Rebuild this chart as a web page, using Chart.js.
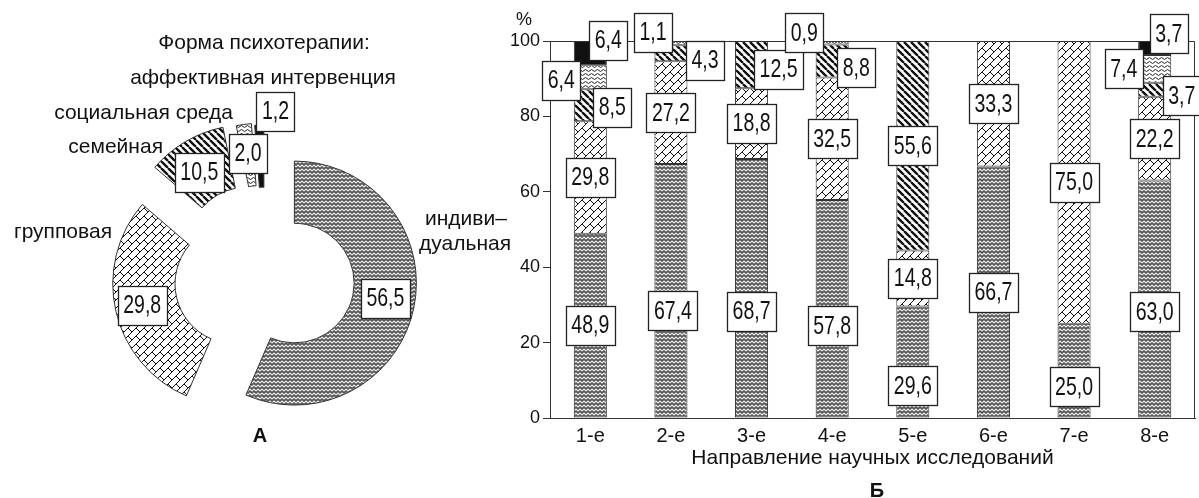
<!DOCTYPE html>
<html>
<head>
<meta charset="utf-8">
<script src="https://cdn.jsdelivr.net/npm/chart.js@4"></script>
<style>
    html, body { margin: 0; padding: 0; background: #fff; }
    body { width: 1199px; height: 498px; position: relative; overflow: hidden; }
    #formChart { position: absolute; left: 0; top: 0; }
    #directionChart { position: absolute; left: 470px; top: 0; }
</style>
</head>
<body>
<canvas id="formChart" width="530" height="498"></canvas>
<canvas id="directionChart" width="729" height="498"></canvas>
<script>
// Panel A: forms of psychotherapy, %
const formLabels = [['индиви–', 'дуальная'], 'групповая', 'семейная', 'социальная среда', 'аффективная интервенция'];
const formShares = [56.5, 29.8, 10.5, 2.0, 1.2];

// Panel Б: research directions, stacked %
const directions = ['1-е', '2-е', '3-е', '4-е', '5-е', '6-е', '7-е', '8-е'];
const individual = [48.9, 67.4, 68.7, 57.8, 29.6, 66.7, 25.0, 63.0];
const group      = [29.8, 27.2, 18.8, 32.5, 14.8, 33.3, 75.0, 22.2];
const family     = [8.5, 4.3, 12.5, 8.8, 55.6, 0, 0, 3.7];
const social     = [6.4, 1.1, 0, 0.9, 0, 0, 0, 7.4];
const affective  = [6.4, 0, 0, 0, 0, 0, 0, 3.7];
const yTicks = [0, 20, 40, 60, 80, 100];

const FONT = 'Arial, "Liberation Sans", sans-serif';
Chart.defaults.font.family = FONT;
Chart.defaults.color = '#111';

// ---- fill textures ----
function makePattern(w, h, draw) {
    const c = document.createElement('canvas');
    c.width = w;
    c.height = h;
    const g = c.getContext('2d');
    draw(g, w, h);
    return g.createPattern(c, 'repeat');
}

const herringbone = makePattern(8, 4, (g) => {
    g.fillStyle = '#555';
    g.fillRect(0, 0, 8, 4);
    g.strokeStyle = '#eee';
    g.lineWidth = 1.1;
    g.beginPath();
    g.moveTo(0, 3); g.lineTo(2, 1); g.lineTo(4, 3); g.lineTo(6, 1); g.lineTo(8, 3);
    g.stroke();
});

// diagonal brick: "/" courses with staggered "\" joints
const brick = makePattern(16, 16, (g) => {
    g.fillStyle = '#fff';
    g.fillRect(0, 0, 16, 16);
    g.strokeStyle = '#111';
    g.lineWidth = 1;
    const xy = (u, v) => [(u + v) / 2, (u - v) / 2];
    g.beginPath();
    for (let k = -2; k <= 6; k++) {
        const u = 8 * k;
        let [x1, y1] = xy(u, -64);
        let [x2, y2] = xy(u, 64);
        g.moveTo(x1, y1); g.lineTo(x2, y2);
        const start = ((8 * k) % 16 + 16) % 16;
        for (let v = start - 64; v <= 64; v += 16) {
            [x1, y1] = xy(u, v);
            [x2, y2] = xy(u + 8, v);
            g.moveTo(x1, y1); g.lineTo(x2, y2);
        }
    }
    g.stroke();
});

const stripes = makePattern(7, 7, (g) => {
    g.fillStyle = '#fff';
    g.fillRect(0, 0, 7, 7);
    g.strokeStyle = '#111';
    g.lineWidth = 2.4;
    g.beginPath();
    for (const k of [-7, 0, 7]) {
        g.moveTo(k, 0);
        g.lineTo(k + 7, 7);
    }
    g.stroke();
});

const wavy = makePattern(6, 4, (g) => {
    g.fillStyle = '#fff';
    g.fillRect(0, 0, 6, 4);
    g.strokeStyle = '#222';
    g.lineWidth = 1;
    g.beginPath();
    g.moveTo(0, 2.5);
    g.quadraticCurveTo(1.5, 0.5, 3, 2.5);
    g.quadraticCurveTo(4.5, 4.5, 6, 2.5);
    g.stroke();
});

const seriesFill = [herringbone, brick, stripes, wavy, '#111'];

// ---- value boxes ----
function fmt(v) {
    return v.toFixed(1).replace('.', ',');
}

function drawValueBox(ctx, text, cx, cy) {
    ctx.save();
    ctx.font = '25px ' + FONT;
    const squeeze = 0.78;
    const tw = ctx.measureText(text).width * squeeze;
    const w = Math.round(tw + 11);
    const h = 39;
    const x = Math.round(cx - w / 2) + 0.5;
    const y = Math.round(cy - h / 2) + 0.5;
    ctx.fillStyle = '#fff';
    ctx.fillRect(x, y, w, h);
    ctx.strokeStyle = '#222';
    ctx.lineWidth = 1.3;
    ctx.strokeRect(x, y, w, h);
    ctx.translate(cx, cy + 1);
    ctx.scale(squeeze, 1);
    ctx.fillStyle = '#111';
    ctx.textAlign = 'center';
    ctx.textBaseline = 'middle';
    ctx.fillText(text, 0, 0);
    ctx.restore();
}

// ---- panel A ----
// how far each slice is pulled out of the ring, px
const sliceExplode = [30, 31, 35, 32, 30];
const formBoxShift = [[2, -3], [-4, 1], [-2, 4], [0, -2], [15, -45]];
const formNamePos = [
    { x: 425, y: 225, align: 'left', second: { x: 419, y: 250 } },
    { x: 112, y: 238, align: 'right' },
    { x: 163, y: 153, align: 'right' },
    { x: 233, y: 119, align: 'right' },
    { x: 263, y: 84, align: 'center' }
];

const formLabelPlugin = {
    id: 'formLabels',
    beforeDatasetsDraw(chart) {
        // explode the slices: move every arc's centre out along its middle angle
        const a = chart.chartArea;
        const cx = (a.left + a.right) / 2;
        const cy = (a.top + a.bottom) / 2;
        chart.getDatasetMeta(0).data.forEach((arc, i) => {
            const mid = (arc.startAngle + arc.endAngle) / 2;
            arc.x = cx + Math.cos(mid) * sliceExplode[i];
            arc.y = cy + Math.sin(mid) * sliceExplode[i];
        });
    },
    afterDatasetsDraw(chart) {
        const ctx = chart.ctx;
        chart.getDatasetMeta(0).data.forEach((arc, i) => {
            const mid = (arc.startAngle + arc.endAngle) / 2;
            const r = (arc.innerRadius + arc.outerRadius) / 2;
            const d = formBoxShift[i];
            drawValueBox(ctx, fmt(formShares[i]), arc.x + Math.cos(mid) * r + d[0], arc.y + Math.sin(mid) * r + d[1]);
        });
    },
    afterDraw(chart) {
        const ctx = chart.ctx;
        ctx.save();
        ctx.fillStyle = '#111';
        ctx.font = '21px ' + FONT;
        ctx.textBaseline = 'alphabetic';
        ctx.textAlign = 'center';
        ctx.fillText('Форма психотерапии:', 264, 49);
        formLabels.forEach((name, i) => {
            const pos = formNamePos[i];
            ctx.textAlign = pos.align;
            if (Array.isArray(name)) {
                ctx.fillText(name[0], pos.x, pos.y);
                ctx.fillText(name[1], pos.second.x, pos.second.y);
            } else {
                ctx.fillText(name, pos.x, pos.y);
            }
        });
        ctx.font = 'bold 20px ' + FONT;
        ctx.textAlign = 'center';
        ctx.fillText('А', 260, 442);
        ctx.restore();
    }
};

new Chart(document.getElementById('formChart'), {
    type: 'doughnut',
    data: {
        labels: formLabels.map(l => Array.isArray(l) ? l.join('') : l),
        datasets: [{
            data: formShares,
            backgroundColor: [herringbone, brick, stripes, wavy, '#111'],
            borderColor: '#333',
            borderWidth: 1,
            hoverOffset: 0
        }]
    },
    options: {
        responsive: false,
        animation: false,
        events: [],
        radius: 122,
        cutout: '49%',
        layout: { padding: { top: 56 } },
        plugins: {
            legend: { display: false },
            tooltip: { enabled: false }
        }
    },
    plugins: [formLabelPlugin]
});

// ---- panel Б ----
const seriesValues = [individual, group, family, social, affective];
const seriesNames = ['индивидуальная', 'групповая', 'семейная', 'социальная среда', 'аффективная интервенция'];
const barBoxShift = {
    '0,1': [2, 20], '0,2': [0, 23], '0,3': [0, 17], '0,4': [0, 24], '0,6': [0, 16], '0,7': [0, 13],
    '2,0': [22, 2], '2,1': [34, 7], '2,2': [27, 5], '2,3': [24, 7], '2,7': [27, 6],
    '3,0': [-29, 3], '3,1': [-18, -11], '3,3': [-28, -10], '3,7': [-31, 0],
    '4,0': [18, -13], '4,7': [14, -14]
};

const framePlugin = {
    id: 'frame',
    beforeDatasetsDraw(chart) {
        const { ctx, chartArea: a } = chart;
        ctx.save();
        ctx.strokeStyle = '#333';
        ctx.lineWidth = 1;
        ctx.beginPath();
        ctx.moveTo(a.left, a.top + 0.5);
        ctx.lineTo(a.right - 0.5, a.top + 0.5);
        ctx.lineTo(a.right - 0.5, a.bottom);
        ctx.stroke();
        ctx.restore();
    },
    afterDatasetsDraw(chart) {
        const ctx = chart.ctx;
        seriesValues.forEach((values, di) => {
            const meta = chart.getDatasetMeta(di);
            meta.data.forEach((bar, ci) => {
                const v = values[ci];
                if (!v) return;
                const d = barBoxShift[di + ',' + ci] || [0, 0];
                drawValueBox(ctx, fmt(v), bar.x + d[0], (bar.y + bar.base) / 2 + d[1]);
            });
        });
    },
    afterDraw(chart) {
        const ctx = chart.ctx;
        ctx.save();
        ctx.fillStyle = '#111';
        ctx.font = '18px ' + FONT;
        ctx.textAlign = 'center';
        ctx.fillText('%', 54, 25);
        ctx.font = 'bold 20px ' + FONT;
        ctx.fillText('Б', 407, 497);
        ctx.restore();
    }
};

new Chart(document.getElementById('directionChart'), {
    type: 'bar',
    data: {
        labels: directions,
        datasets: seriesValues.map((values, i) => ({
            label: seriesNames[i],
            data: values.map(v => v || null),
            backgroundColor: seriesFill[i],
            borderColor: '#333',
            borderWidth: 1,
            borderSkipped: false,
            barPercentage: 0.41,
            categoryPercentage: 1.0
        }))
    },
    options: {
        responsive: false,
        animation: false,
        events: [],
        layout: { padding: { top: 41, right: 4, left: 0, bottom: 0 } },
        scales: {
            x: {
                stacked: true,
                grid: { display: false, drawTicks: false },
                border: { display: true, color: '#333' },
                ticks: { font: { size: 20 }, padding: 6, color: '#111' },
                title: {
                    display: true,
                    text: 'Направление научных исследований',
                    font: { size: 21 },
                    color: '#111',
                    padding: { top: 0, bottom: 27 }
                },
                afterFit: (scale) => { scale.height = 80; }
            },
            y: {
                stacked: true,
                min: 0,
                max: 100,
                afterBuildTicks: (axis) => { axis.ticks = yTicks.map(v => ({ value: v })); },
                grid: { drawOnChartArea: false, drawTicks: true, tickLength: 7, color: '#333' },
                border: { display: true, color: '#333' },
                ticks: { font: { size: 18 }, padding: 3, color: '#111' },
                afterFit: (scale) => { scale.width = 80; }
            }
        },
        plugins: {
            legend: { display: false },
            tooltip: { enabled: false }
        }
    },
    plugins: [framePlugin]
});
</script>
</body>
</html>
